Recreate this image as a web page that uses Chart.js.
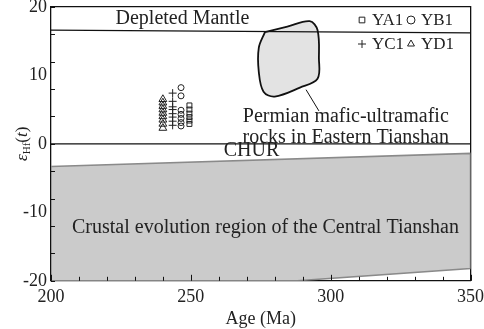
<!DOCTYPE html>
<html>
<head>
  <meta charset="UTF-8">
  <title>εHf(t) vs Age</title>
  <script src="https://cdn.jsdelivr.net/npm/chart.js"></script>
  <style>
    body { margin: 0; background: #fff; overflow: hidden; }
    #hfChart { position: absolute; left: 0; top: -8px; }
  </style>
</head>
<body>
  <canvas id="hfChart" width="490" height="337"></canvas>
  <script>
    // sample data (age in Ma, epsilon Hf)
    const ya1Age = [249.5, 249.5, 249.5, 249.5, 249.5, 249.5];
    const ya1Eps = [2.9, 3.4, 3.9, 4.4, 5.0, 5.6];
    const yb1Age = [246.5, 246.5, 246.5, 246.5, 246.5, 246.5, 246.5];
    const yb1Eps = [8.2, 7.0, 4.9, 4.3, 3.7, 3.1, 2.6];
    const yc1Age = [243.5, 243.5, 243.5, 243.5, 243.5, 243.5, 243.5, 243.5];
    const yc1Eps = [7.4, 6.2, 5.4, 5.0, 4.4, 3.9, 3.3, 2.7];
    const yd1Age = [240, 240, 240, 240, 240, 240, 240, 240, 240];
    const yd1Eps = [2.3, 2.9, 3.5, 4.0, 4.5, 5.0, 5.5, 6.0, 6.5];

    // reference lines and fields
    const dmAge = [200, 350];
    const dmEps = [16.6, 16.2];
    const churAge = [200, 350];
    const churEps = [0, 0];
    const crustAge = [200, 350, 350, 288, 200, 200];
    const crustEps = [-3.3, -1.4, -18.2, -20, -20, -3.3];
    const blobAge = [276.5, 284.5, 292.5, 295.3, 295.8, 295.3, 289, 280, 276, 274.3, 274.3, 276.5];
    const blobEps = [16.3, 17.1, 17.9, 16.6, 12.5, 9.5, 8.2, 6.9, 7.6, 10.5, 14, 16.3];
    const leaderAge = [291.2, 295.8];
    const leaderEps = [7.9, 4.8];

    const toPts = (xs, ys) => xs.map((x, i) => ({ x: x, y: ys[i] }));
    const serif = '"Liberation Serif", "DejaVu Serif", serif';

    // text annotations and minor ticks, drawn at data positions
    const extras = {
      id: 'extras',
      afterDatasetsDraw(chart) {
        const ctx = chart.ctx;
        const xs = chart.scales.x, ys = chart.scales.y;
        const area = chart.chartArea;
        const px = v => xs.getPixelForValue(v);
        const py = v => ys.getPixelForValue(v);
        ctx.save();
        ctx.fillStyle = '#222';
        ctx.textAlign = 'center';
        ctx.textBaseline = 'middle';
        ctx.font = '20px ' + serif;
        ctx.fillText('Depleted Mantle', px(247), py(18.3));
        ctx.fillText('CHUR', px(271.7), py(-1.0));
        ctx.fillText('Permian mafic-ultramafic', px(305.4), py(3.9));
        ctx.fillText('rocks in Eastern Tianshan', px(305.4), py(0.85));
        ctx.fillText('Crustal evolution region of the Central Tianshan', px(276.7), py(-12.2));

        // legend, drawn by hand inside the plot
        ctx.textAlign = 'left';
        ctx.font = '17px ' + serif;
        const legend = [
          { s: 'rect', label: 'YA1', x: 358, y: 28 },
          { s: 'circle', label: 'YB1', x: 407, y: 28 },
          { s: 'cross', label: 'YC1', x: 358, y: 52 },
          { s: 'triangle', label: 'YD1', x: 407, y: 52 }
        ];
        legend.forEach(l => {
          ctx.save();
          ctx.strokeStyle = '#222';
          ctx.fillStyle = 'rgba(0,0,0,0)';
          ctx.lineWidth = 1;
          Chart.helpers.drawPoint(ctx, { pointStyle: l.s, radius: 4, borderWidth: 1 }, l.x + 4, l.y);
          ctx.restore();
          ctx.fillText(l.label, l.x + 14, l.y + 1);
        });

        // inward ticks
        ctx.strokeStyle = '#111';
        ctx.lineWidth = 1;
        ctx.beginPath();
        for (let a = 200; a <= 350; a += 10) {
          const len = a % 50 === 0 ? 6 : 4;
          const x = Math.round(px(a)) + 0.5;
          ctx.moveTo(x, area.bottom); ctx.lineTo(x, area.bottom - len);
        }
        for (let e = -20; e <= 20; e += 4) {
          const y = Math.round(py(e)) + 0.5;
          ctx.moveTo(area.left, y); ctx.lineTo(area.left + 4, y);
        }
        ctx.stroke();

        // y axis title: epsilon with Hf subscript
        ctx.translate(22, (area.top + area.bottom) / 2);
        ctx.rotate(-Math.PI / 2);
        ctx.textBaseline = 'alphabetic';
        let w = 0;
        const parts = [['ε', 'italic 17px ', 0], ['Hf', '11px ', 3], ['(', '17px ', 0], ['t', 'italic 17px ', 0], [')', '17px ', 0]];
        parts.forEach(p => { ctx.font = p[1] + serif; w += ctx.measureText(p[0]).width; });
        let cx = -w / 2;
        parts.forEach(p => {
          ctx.font = p[1] + serif;
          ctx.fillText(p[0], cx, 5 + p[2]);
          cx += ctx.measureText(p[0]).width;
        });
        ctx.restore();
      }
    };

    const lineSet = (data, extra) => Object.assign({
      data: data, showLine: true, pointRadius: 0, borderColor: '#111',
      borderWidth: 1.3, fill: false, tension: 0
    }, extra);

    const markerSet = (data, style, r) => ({
      data: data, pointStyle: style, pointRadius: r, borderColor: '#222',
      backgroundColor: 'rgba(0,0,0,0)', borderWidth: 1, showLine: false
    });

    new Chart(document.getElementById('hfChart'), {
      type: 'scatter',
      data: {
        datasets: [
          lineSet(toPts(crustAge, crustEps), { fill: 'shape', backgroundColor: '#cbcbcb', borderColor: '#8a8a8a', borderWidth: 1.5 }),
          lineSet(toPts(dmAge, dmEps)),
          lineSet(toPts(churAge, churEps)),
          lineSet(toPts(blobAge, blobEps), { fill: 'shape', backgroundColor: '#e3e3e3', borderWidth: 1.8, tension: 0.35 }),
          lineSet(toPts(leaderAge, leaderEps), { borderWidth: 1 }),
          markerSet(toPts(yd1Age, yd1Eps), 'triangle', 4.5),
          markerSet(toPts(yc1Age, yc1Eps), 'cross', 4),
          markerSet(toPts(yb1Age, yb1Eps), 'circle', 3),
          markerSet(toPts(ya1Age, ya1Eps), 'rect', 3.5)
        ]
      },
      options: {
        responsive: false,
        animation: false,
        devicePixelRatio: 1,
        layout: { padding: { left: 19, right: 1, top: 0, bottom: -5 } },
        plugins: { legend: { display: false }, tooltip: { enabled: false } },
        scales: {
          x: {
            type: 'linear', min: 200, max: 350,
            border: { color: '#111', width: 1.3 },
            grid: { drawOnChartArea: false, drawTicks: false },
            ticks: { stepSize: 50, color: '#222', padding: 6, font: { family: serif, size: 18 } },
            title: { display: true, text: 'Age (Ma)', color: '#222', padding: { top: -6 }, font: { family: serif, size: 18 } }
          },
          y: {
            min: -20, max: 20,
            border: { color: '#111', width: 1.3 },
            grid: { drawOnChartArea: false, drawTicks: false },
            ticks: { stepSize: 10, color: '#222', padding: 4, font: { family: serif, size: 18 } }
          },
          x2: {
            type: 'linear', position: 'top', min: 200, max: 350,
            border: { color: '#111', width: 1.3 }, grid: { display: false }, ticks: { display: false }
          },
          y2: {
            position: 'right', min: -20, max: 20,
            border: { color: '#111', width: 1.3 }, grid: { display: false }, ticks: { display: false }
          }
        }
      },
      plugins: [extras]
    });
  </script>
</body>
</html>
